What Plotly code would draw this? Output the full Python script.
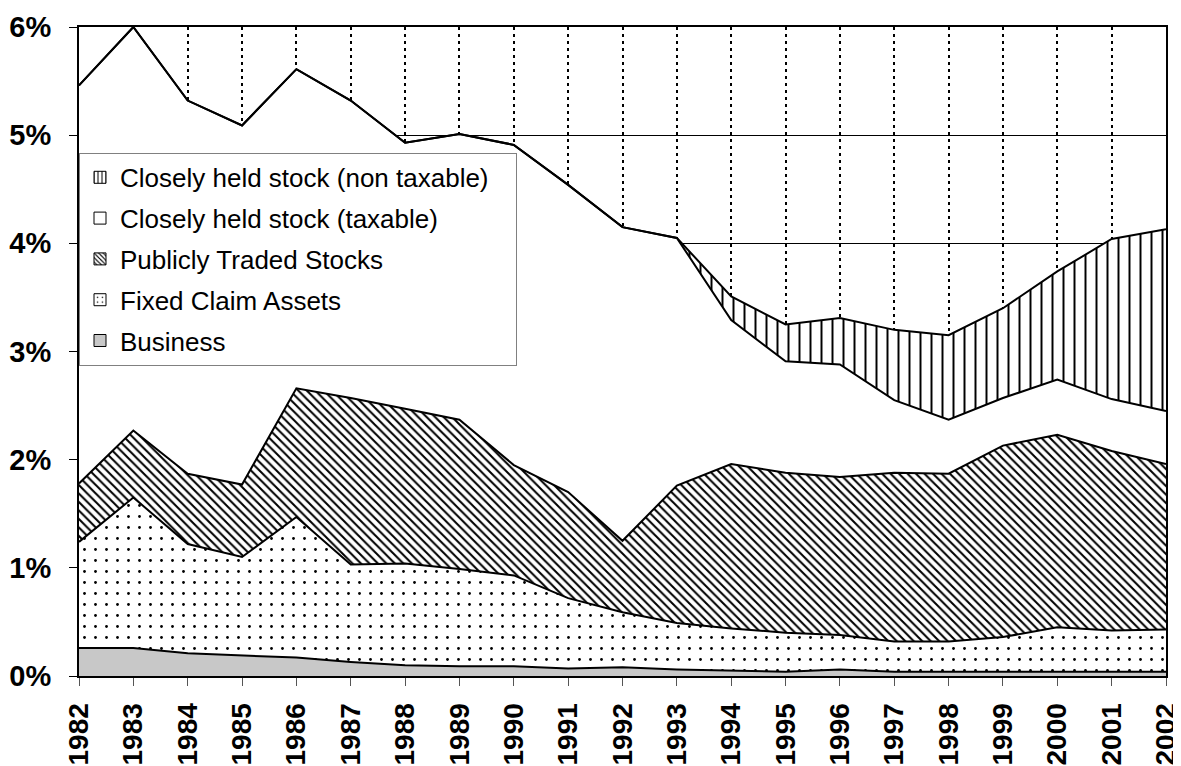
import plotly.graph_objects as go

years = list(range(1982, 2003))

# shares (% of total) for each asset class, stacked bottom to top
business = [0.26, 0.26, 0.21, 0.19, 0.17, 0.13, 0.10, 0.09, 0.09, 0.07, 0.08,
            0.06, 0.05, 0.04, 0.06, 0.04, 0.04, 0.04, 0.04, 0.04, 0.04]
fixed_claim = [0.98, 1.39, 1.01, 0.91, 1.30, 0.90, 0.94, 0.90, 0.84, 0.65, 0.51,
               0.43, 0.39, 0.36, 0.32, 0.28, 0.28, 0.32, 0.41, 0.38, 0.39]
public_stocks = [0.54, 0.62, 0.65, 0.67, 1.19, 1.54, 1.43, 1.38, 1.02, 0.98, 0.66,
                 1.27, 1.52, 1.48, 1.46, 1.56, 1.55, 1.77, 1.78, 1.66, 1.53]
closely_taxable = [3.68, 3.73, 3.45, 3.32, 2.95, 2.75, 2.46, 2.64, 2.96, 2.84, 2.90,
                   2.29, 1.33, 1.03, 1.04, 0.67, 0.50, 0.44, 0.51, 0.48, 0.49]
closely_nontaxable = [0, 0, 0, 0, 0, 0, 0, 0, 0, 0, 0,
                      0, 0.22, 0.34, 0.43, 0.65, 0.78, 0.83, 1.00, 1.48, 1.68]

y_ticks = [0, 1, 2, 3, 4, 5, 6]
y_tick_labels = ["0%", "1%", "2%", "3%", "4%", "5%", "6%"]

names = ["Business", "Fixed Claim Assets", "Publicly Traded Stocks",
         "Closely held stock (taxable)", "Closely held stock (non taxable)"]
series = [business, fixed_claim, public_stocks, closely_taxable, closely_nontaxable]

FONT = "Liberation Sans, Arial, sans-serif"
PAD = "\u00a0\u00a0\u00a0"  # invisible right padding inside the legend box

area_styles = [
    dict(fillcolor="#c8c8c8", fillpattern=None),
    dict(fillcolor="white", fillpattern=dict(shape=".", size=11, solidity=0.05,
                                               fgcolor="black", bgcolor="white", fgopacity=1)),
    dict(fillcolor="white", fillpattern=dict(shape="\\", size=6, solidity=0.34,
                                               fgcolor="black", bgcolor="white", fgopacity=1)),
    dict(fillcolor="white", fillpattern=None),
    dict(fillcolor="white", fillpattern=dict(shape="|", size=11, solidity=0.18,
                                               fgcolor="black", bgcolor="white", fgopacity=1)),
]
legend_patterns = [
    None,
    dict(shape=".", size=6, solidity=0.08, fgcolor="black", bgcolor="white", fgopacity=1),
    dict(shape="\\", size=4, solidity=0.35, fgcolor="black", bgcolor="white", fgopacity=1),
    None,
    dict(shape="|", size=5, solidity=0.25, fgcolor="black", bgcolor="white", fgopacity=1),
]
legend_colors = ["#c8c8c8", "white", "white", "white", "white"]

fig = go.Figure()
for name, vals, st in zip(names, series, area_styles):
    kw = dict(x=years, y=vals, name=name, mode="lines", stackgroup="one",
              line=dict(color="black", width=2), fillcolor=st["fillcolor"],
              showlegend=False, hoverinfo="skip")
    if st["fillpattern"] is not None:
        kw["fillpattern"] = st["fillpattern"]
    fig.add_trace(go.Scatter(**kw))

# legend-only entries (top to bottom as in the original)
for rank, i in enumerate([4, 3, 2, 1, 0]):
    marker = dict(color=legend_colors[i], line=dict(color="black", width=1))
    if legend_patterns[i] is not None:
        marker["pattern"] = legend_patterns[i]
    fig.add_trace(go.Bar(x=[None], y=[None], name=names[i] + PAD, marker=marker,
                         legendgroup=names[i], legendrank=rank + 1, showlegend=True))

fig.update_layout(
    width=1173, height=758,
    margin=dict(l=71, r=15, t=19, b=90),
    paper_bgcolor="white", plot_bgcolor="white",
    font=dict(family=FONT, color="black"),
    showlegend=True,
    legend=dict(x=0, y=0.806, xanchor="left", yanchor="top",
                bgcolor="white", bordercolor="#808080", borderwidth=1,
                font=dict(family=FONT, size=26, color="black"),
                traceorder="grouped", tracegroupgap=4),
    xaxis=dict(range=[1982, 2002], tickmode="array", tickvals=years,
               ticktext=[str(y) for y in years], tickangle=-90,
               tickfont=dict(family=FONT, size=28, weight="bold", color="black"),
               ticks="outside", ticklen=8, tickcolor="#555555", tickwidth=1,
               ticklabelstandoff=6, ticklabeloverflow="allow",
               showline=True, linecolor="black", linewidth=2, mirror=True,
               showgrid=True, gridcolor="black", gridwidth=2, griddash="3px,4px",
               zeroline=False, automargin=False),
    yaxis=dict(range=[0, 6], tickmode="array", tickvals=y_ticks, ticktext=y_tick_labels,
               tickfont=dict(family=FONT, size=29, weight="bold", color="black"),
               ticks="outside", ticklen=8, tickcolor="black", tickwidth=1,
               ticklabelstandoff=12, ticklabeloverflow="allow",
               showline=True, linecolor="black", linewidth=2, mirror=True,
               showgrid=True, gridcolor="black", gridwidth=1,
               zeroline=False, automargin=False),
)

fig.write_html("out.html")
